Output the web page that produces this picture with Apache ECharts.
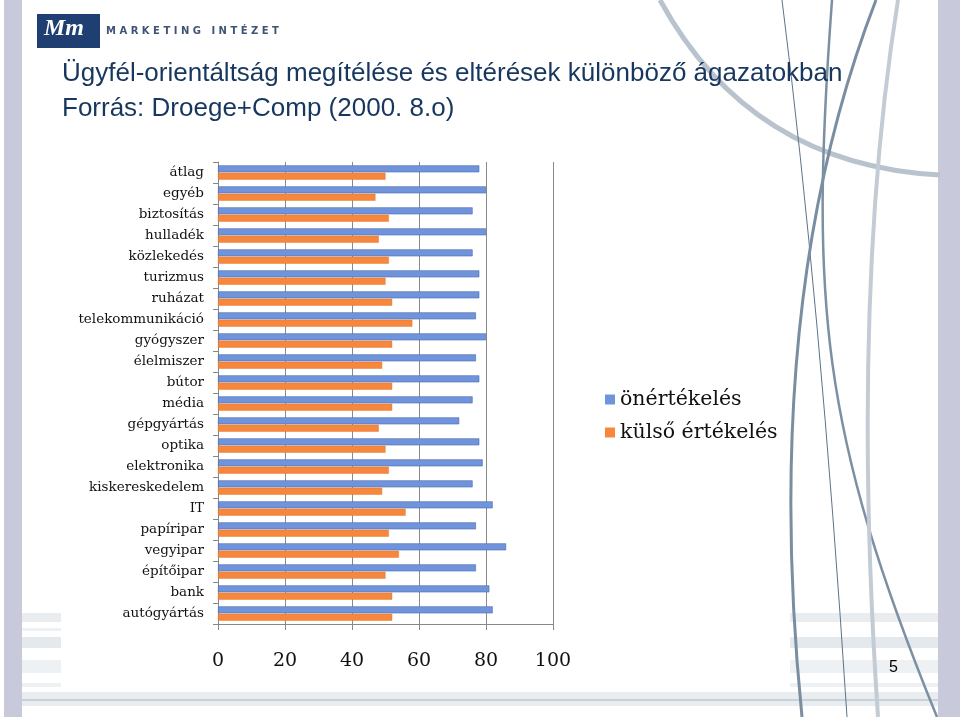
<!DOCTYPE html>
<html>
<head>
<meta charset="utf-8">
<script src="https://cdn.jsdelivr.net/npm/echarts@6/dist/echarts.min.js"></script>
<style>
html,body{margin:0;padding:0;background:#fff;}
#c{width:960px;height:717px;}
</style>
</head>
<body>
<div id="c"></div>
<script>
var categories = ['átlag','egyéb','biztosítás','hulladék','közlekedés','turizmus','ruházat','telekommunikáció','gyógyszer','élelmiszer','bútor','média','gépgyártás','optika','elektronika','kiskereskedelem','IT','papíripar','vegyipar','építőipar','bank','autógyártás'];
var onertekeles = [78,80,76,80,76,78,78,77,80,77,78,76,72,78,79,76,82,77,86,77,81,82];
var kulsoErtekeles = [50,47,51,48,51,50,52,58,52,49,52,52,48,50,51,49,56,51,54,50,52,52];
var xTicks = [0,20,40,60,80,100];
var seriesNames = ['önértékelés','külső értékelés'];
var titleLine1 = 'Ügyfél-orientáltság megítélése és eltérések különböző ágazatokban';
var titleLine2 = 'Forrás: Droege+Comp (2000. 8.o)';

var chart = echarts.init(document.getElementById('c'));
var deco = [
  {type:'rect', shape:{x:4,y:0,width:18,height:717}, style:{fill:'#c8c9da'}, z:-10},
  {type:'rect', shape:{x:938,y:0,width:22,height:717}, style:{fill:'#c8c9da'}, z:-10},
  // bottom stripes
  {type:'rect', shape:{x:22,y:692,width:916,height:14}, style:{fill:'#e9edf0'}, z:-9},
  {type:'rect', shape:{x:22,y:699,width:916,height:2}, style:{fill:'#c9d1d8'}, z:-9},
  {type:'rect', shape:{x:22,y:613,width:39,height:9}, style:{fill:'#e9edf0'}, z:-9},
  {type:'rect', shape:{x:22,y:628,width:39,height:3}, style:{fill:'#eef1f3'}, z:-9},
  {type:'rect', shape:{x:22,y:637,width:39,height:11}, style:{fill:'#e4e9ed'}, z:-9},
  {type:'rect', shape:{x:22,y:660,width:39,height:13}, style:{fill:'#eef1f3'}, z:-9},
  {type:'rect', shape:{x:22,y:683,width:39,height:4}, style:{fill:'#eef1f3'}, z:-9},
  {type:'rect', shape:{x:790,y:613,width:148,height:9}, style:{fill:'#e9edf0'}, z:-9},
  {type:'rect', shape:{x:790,y:637,width:148,height:11}, style:{fill:'#e4e9ed'}, z:-9},
  {type:'rect', shape:{x:790,y:660,width:148,height:13}, style:{fill:'#eef1f3'}, z:-9},
  {type:'rect', shape:{x:790,y:683,width:148,height:4}, style:{fill:'#eef1f3'}, z:-9},
  // decorative curves
  {type:'bezierCurve', shape:{x1:660,y1:0,cpx1:750,cpy1:165,x2:940,y2:175}, style:{stroke:'#b9c3ce',lineWidth:5,fill:null}, z:-8},
  {type:'bezierCurve', shape:{x1:782,y1:0,cpx1:820,cpy1:300,x2:847,y2:717}, style:{stroke:'#5d7389',lineWidth:1,fill:null}, z:-8},
  {type:'bezierCurve', shape:{x1:876,y1:0,cpx1:760,cpy1:300,x2:802,y2:717}, style:{stroke:'#7a8ea2',lineWidth:3,fill:null}, z:-8},
  {type:'bezierCurve', shape:{x1:832,y1:0,cpx1:810,cpy1:300,cpx2:820,cpy2:430,x2:937,y2:717}, style:{stroke:'#7d90a3',lineWidth:2.5,fill:null}, z:-8},
  {type:'bezierCurve', shape:{x1:898,y1:0,cpx1:850,cpy1:300,x2:878,y2:717}, style:{stroke:'#c3ccd5',lineWidth:4,fill:null}, z:-8},
  // logo
  {type:'rect', shape:{x:37,y:14,width:63,height:34}, style:{fill:'#1f3f73'}, z:5},
  {type:'text', x:44, y:17, style:{text:'Mm', fill:'#ffffff', font:'italic bold 24px "Liberation Serif"'}, z:6},
  {type:'text', x:106, y:26, style:{text:'M A R K E T I N G   I N T É Z E T', fill:'#3f5475', font:'bold 10px "DejaVu Sans"'}, z:6},
  // titles
  {type:'text', x:62, y:61, style:{text:titleLine1, fill:'#17375e', font:'26px "Liberation Sans"'}, z:6},
  {type:'text', x:62, y:96, style:{text:titleLine2, fill:'#17375e', font:'26px "Liberation Sans"'}, z:6},
  {type:'text', x:889, y:660, style:{text:'5', fill:'#000000', font:'16px "Liberation Sans"'}, z:6}
];

chart.setOption({
  animation:false,
  backgroundColor:'#ffffff',
  graphic: deco,
  legend:{
    orient:'vertical', left:600, top:384, itemWidth:10, itemHeight:10, itemGap:12,
    icon:'rect',
    itemStyle:{borderWidth:0},
    textStyle:{fontFamily:'DejaVu Serif', fontSize:20.5, color:'#111'},
    data: seriesNames
  },
  grid:{left:218, width:335, top:162, height:462},
  xAxis:{
    type:'value', min:0, max:100, interval:20,
    axisLine:{show:true, lineStyle:{color:'#888', width:1}},
    axisTick:{show:true, length:6, lineStyle:{color:'#888'}},
    splitLine:{show:true, lineStyle:{color:'#8a8a8a', width:1}},
    axisLabel:{margin:28, fontFamily:'DejaVu Serif', fontSize:19, color:'#111',
      formatter:function(v){return xTicks.indexOf(v)>=0 ? String(v) : '';}}
  },
  yAxis:{
    type:'category', inverse:true, data:categories,
    axisLine:{show:true, lineStyle:{color:'#888'}},
    axisTick:{show:true, length:5, lineStyle:{color:'#888'}},
    axisLabel:{margin:14, fontFamily:'DejaVu Serif', fontSize:13.5, color:'#111'}
  },
  series:[
    {name:seriesNames[0], type:'bar', data:onertekeles, barWidth:7, barGap:'5%',
      itemStyle:{color:'#7094db', borderColor:'#4a69ad', borderWidth:0.6}},
    {name:seriesNames[1], type:'bar', data:kulsoErtekeles, barWidth:7,
      itemStyle:{color:'#f7873d', borderColor:'#e06f25', borderWidth:0.4}}
  ]
});
</script>
</body>
</html>
